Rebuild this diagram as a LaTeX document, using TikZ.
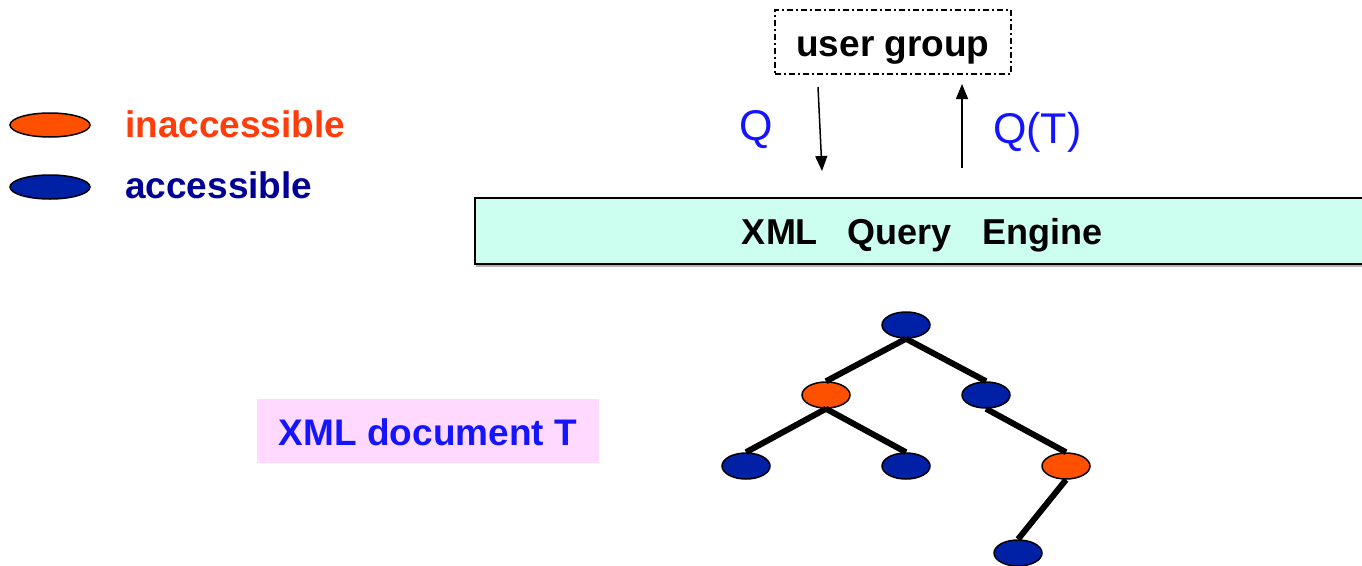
\documentclass[tikz,border=0pt]{standalone}
\usepackage{fontspec}
\setmainfont{Liberation Sans}
\usetikzlibrary{shapes.geometric,arrows.meta}
\definecolor{orng}{RGB}{255,80,0}
\definecolor{nblue}{RGB}{0,32,165}
\definecolor{txtorange}{RGB}{255,60,10}
\definecolor{txtnavy}{RGB}{0,0,150}
\definecolor{qblue}{RGB}{20,20,255}
\definecolor{engfill}{RGB}{204,255,240}
\definecolor{pinkfill}{RGB}{255,217,255}
\tikzset{
  treenode/.style={ellipse, draw=black, line width=1.5pt, minimum width=48pt, minimum height=26pt, inner sep=0pt},
  acc/.style={treenode, fill=nblue},
  inacc/.style={treenode, fill=orng},
  legnode/.style={ellipse, draw=black, line width=1.5pt, minimum width=80pt, minimum height=24pt, inner sep=0pt},
  edge/.style={line width=6pt},
  qarrow/.style={line width=1.5pt, -{Triangle[width=12pt,length=15pt]}},
  bigtext/.style={font=\fontsize{37}{44}\selectfont\bfseries, inner sep=0pt},
}
\begin{document}
\begin{tikzpicture}[x=1pt,y=-1pt]
\useasboundingbox (0,0) rectangle (1362,565);
% legend
\node[legnode, fill=orng] (lo) at (50,125) {};
\node[legnode, fill=nblue] (lb) at (50,187) {};
\node[bigtext, text=txtorange, anchor=base west] (tinacc) at (125,137) {inaccessible};
\node[bigtext, text=txtnavy, anchor=base west] (tacc) at (125,198) {accessible};
% user group
\node[draw=black, line width=1.2pt, dash pattern=on 6pt off 3pt on 2pt off 3pt,
      minimum width=236pt, minimum height=64pt] (ug) at (893,42) {};
\node[bigtext, anchor=base] (ugt) at (893,56) {user group};
% engine
\fill[gray!60] (476,200) rectangle (1362,267);
\node[draw=black, fill=engfill, line width=2pt, minimum width=892pt, minimum height=66pt,
      anchor=west, inner sep=0pt] (eng) at (474,231) {};
\node[font=\fontsize{36}{42}\selectfont\bfseries, anchor=base, inner sep=0pt] (engtxt) at (922,244) {XML\hspace{30pt}Query\hspace{30pt}Engine};
% arrows
\coordinate (q1) at (818,87);
\coordinate (q2) at (822,171);
\coordinate (r1) at (962,168);
\coordinate (r2) at (962,84);
\draw[qarrow] (q1) -- (q2);
\draw[qarrow] (r1) -- (r2);
\node[font=\fontsize{43}{50}\selectfont, text=qblue, inner sep=0pt, anchor=base west] (qlab) at (739,140) {Q};
\node[font=\fontsize{43}{50}\selectfont, text=qblue, inner sep=0pt, anchor=base west] (qtlab) at (993,143) {Q(T)};
% XML document T
\node[fill=pinkfill, minimum width=342pt, minimum height=64pt, inner sep=0pt] (doc) at (428,431) {};
\node[font=\fontsize{37}{44}\selectfont\bfseries, text=qblue, anchor=base, inner sep=0pt] (doct) at (428,445) {XML document T};
% tree
\node[acc] (n1) at (906,325) {};
\node[inacc] (n2) at (826,395) {};
\node[acc] (n3) at (986,395) {};
\node[acc] (n4) at (746,466) {};
\node[acc] (n5) at (906,466) {};
\node[inacc] (n6) at (1066,466) {};
\node[acc] (n7) at (1018,553) {};
\draw[edge] (n1.south) -- (n2.north);
\draw[edge] (n1.south) -- (n3.north);
\draw[edge] (n2.south) -- (n4.north);
\draw[edge] (n2.south) -- (n5.north);
\draw[edge] (n3.south) -- (n6.north);
\draw[edge] (n6.south) -- (n7.north);
\end{tikzpicture}
\end{document}
